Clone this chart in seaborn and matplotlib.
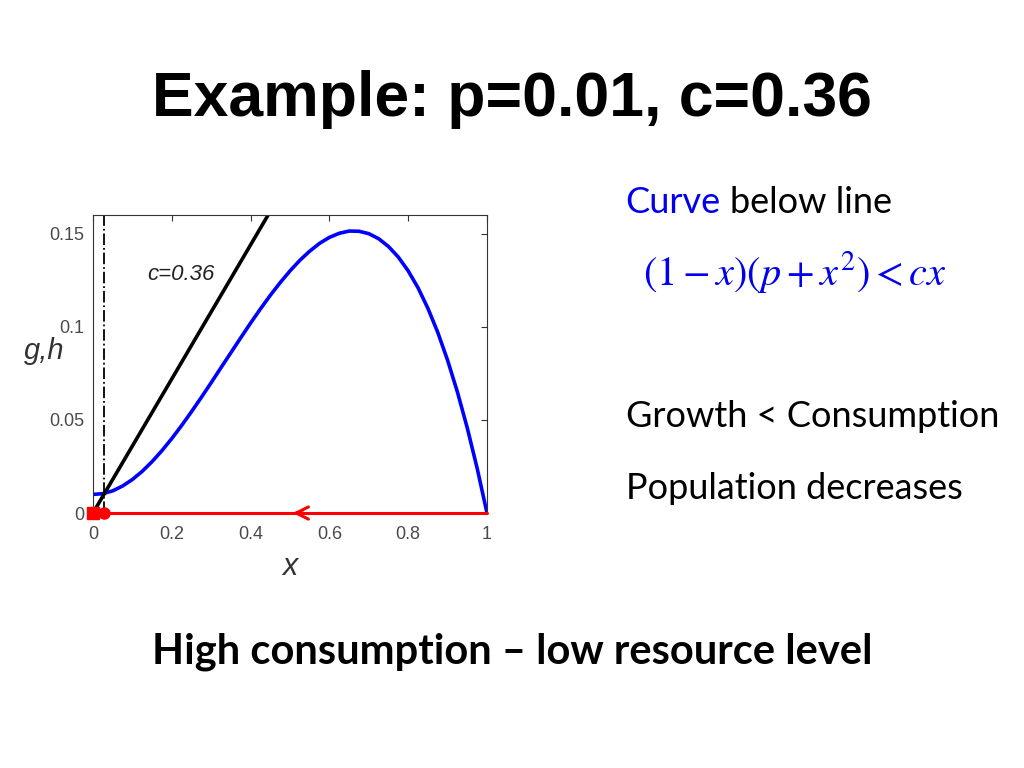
import matplotlib
matplotlib.use("Agg")
import matplotlib.pyplot as plt
import seaborn as sns
import pandas as pd

# ------------------------------
# Data
# ------------------------------
p_value = 0.01
c_value = 0.36

# growth curve g(x) (blue)
curve_x = [0.0, 0.025, 0.05, 0.075, 0.1, 0.125, 0.15, 0.175, 0.2, 0.225,
           0.25, 0.275, 0.3, 0.325, 0.35, 0.375, 0.4, 0.425, 0.45, 0.475,
           0.5, 0.525, 0.55, 0.575, 0.6, 0.625, 0.65, 0.675, 0.7, 0.725,
           0.75, 0.775, 0.8, 0.825, 0.85, 0.875, 0.9, 0.925, 0.95, 0.975, 1.0]
curve_g = [0.0100, 0.0104, 0.0119, 0.0145, 0.0180, 0.0224, 0.0276, 0.0335, 0.0400, 0.0470,
           0.0544, 0.0621, 0.0700, 0.0781, 0.0861, 0.0941, 0.1020, 0.1096, 0.1169, 0.1237,
           0.1300, 0.1357, 0.1406, 0.1448, 0.1480, 0.1502, 0.1514, 0.1513, 0.1500, 0.1473,
           0.1431, 0.1374, 0.1300, 0.1209, 0.1099, 0.0970, 0.0820, 0.0649, 0.0456, 0.0240, 0.0]

# consumption line h(x) = c x (black), drawn past the top of the axes
line_x = [0.0, 0.5]
line_h = [0.0, 0.18]

# equilibria and flow on the x axis (red)
stable_x = [0.0]
unstable_x = [0.029]
flow_x = [0.0, 1.0]
flow_y = [0.0, 0.0]
arrow_x = 0.5

x_ticks = [0, 0.2, 0.4, 0.6, 0.8, 1]
x_tick_labels = ["0", "0.2", "0.4", "0.6", "0.8", "1"]
y_ticks = [0, 0.05, 0.1, 0.15]
y_tick_labels = ["0", "0.05", "0.1", "0.15"]

curve_df = pd.DataFrame({"x": curve_x, "g": curve_g})
line_df = pd.DataFrame({"x": line_x, "h": line_h})

# ------------------------------
# Figure
# ------------------------------
sns.set_style("white")
plt.rcParams["font.family"] = ["Liberation Sans", "DejaVu Sans"]
plt.rcParams["mathtext.fontset"] = "stix"
plt.rcParams["text.color"] = "black"

fig = plt.figure(figsize=(10.24, 7.68), dpi=100)
fig.set_facecolor("white")

ax = fig.add_axes([0.0908, 0.332, 0.3848, 0.388])

sns.lineplot(data=curve_df, x="x", y="g", color="#0000ff", linewidth=2.6, ax=ax, sort=False)
sns.lineplot(data=line_df, x="x", y="h", color="black", linewidth=2.6, ax=ax, sort=False)
ax.axvline(unstable_x[0], color="black", linestyle="-.", linewidth=1.3)

ax.plot(flow_x, flow_y, color="red", linewidth=2.2, clip_on=False, zorder=5)
ax.annotate("", xy=(arrow_x, 0), xytext=(arrow_x + 0.04, 0),
            arrowprops=dict(arrowstyle="->", color="red", lw=2.2, mutation_scale=22),
            annotation_clip=False, zorder=6)
ax.plot(stable_x, [0], marker="s", color="red", markersize=8, clip_on=False, zorder=7)
ax.plot(unstable_x, [0], marker="o", color="red", markersize=8, clip_on=False, zorder=7)

ax.text(0.138, 0.128, "c=0.36", fontsize=16, style="italic", color="#222222", va="center")

ax.set_xlim(0, 1)
ax.set_ylim(0, 0.16)
ax.set_xticks(x_ticks)
ax.set_xticklabels(x_tick_labels)
ax.set_yticks(y_ticks)
ax.set_yticklabels(y_tick_labels)
ax.tick_params(direction="in", top=True, right=True, length=4, width=0.8,
               labelsize=13, labelcolor="#4a4a4a", color="#333333")
ax.tick_params(axis="x", pad=9)
ax.tick_params(axis="y", pad=6)
for spine in ax.spines.values():
    spine.set_color("#333333")
    spine.set_linewidth(0.8)

ax.set_xlabel("x", fontsize=22, style="italic", color="#333333")
ax.xaxis.set_label_coords(0.5, -0.13)
ax.set_ylabel("g,h", fontsize=21, style="italic", color="#333333", rotation=0, va="center")
ax.yaxis.set_label_coords(-0.123, 0.545)

# ------------------------------
# Slide text
# ------------------------------
fig.text(0.5, 0.87, "Example: p=0.01, c=0.36", ha="center", va="center",
         fontsize=45, fontweight="bold", family=["Liberation Sans", "DejaVu Sans"])

fig.text(0.611, 0.736, "Curve", color="#0000ee", fontsize=26, va="center",
         family=["Lato", "DejaVu Sans"])
fig.text(0.713, 0.736, "below line", color="black", fontsize=26, va="center",
         family=["Lato", "DejaVu Sans"])
fig.text(0.628, 0.646, r"$(1-x)(p+x^2)<cx$", color="#0000ee", fontsize=29, va="center")

fig.text(0.611, 0.458, "Growth < Consumption", fontsize=26, va="center",
         family=["Lato", "DejaVu Sans"])
fig.text(0.611, 0.364, "Population decreases", fontsize=26, va="center",
         family=["Lato", "DejaVu Sans"])

fig.text(0.5, 0.151, "High consumption \u2013 low resource level", ha="center", va="center",
         fontsize=30, fontweight="bold", family=["Lato", "DejaVu Sans"])

plt.savefig("out.png", dpi=100, facecolor="white")
plt.close()
